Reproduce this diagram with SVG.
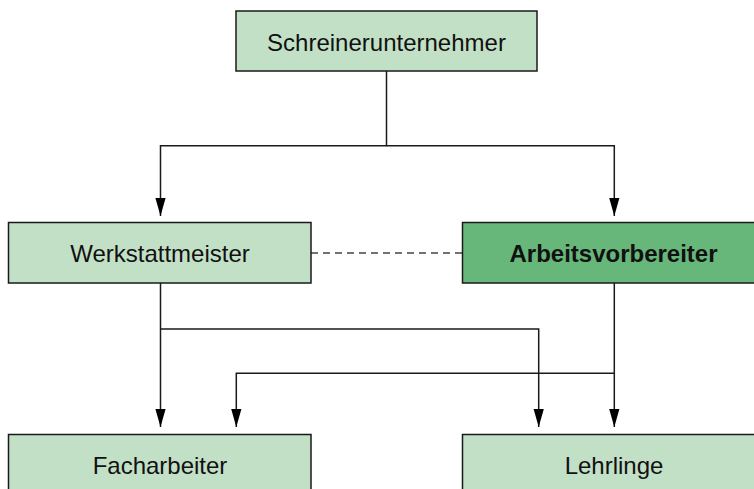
<svg xmlns="http://www.w3.org/2000/svg" width="754" height="489" viewBox="0 0 754 489">
<style>
.box{fill:#c2e0c6;stroke:#1a1a1a;stroke-width:1.5}
.boxd{fill:#67b77b;stroke:#1a1a1a;stroke-width:1.5}
.lbl{font-family:"Liberation Sans",Arial,sans-serif;font-size:24px;fill:#111;text-anchor:middle}
.b{font-weight:bold}
.con{fill:none;stroke:#1a1a1a;stroke-width:1.5}
.dash{fill:none;stroke:#444;stroke-width:1.5;stroke-dasharray:7 5}
</style>
<defs>
<marker id="arr" markerUnits="userSpaceOnUse" markerWidth="19" markerHeight="11" refX="18.5" refY="5.25" orient="auto" viewBox="0 0 19 10.5">
<path d="M0,0 L18.5,5.25 L0,10.5 z" fill="#000"/>
</marker>
</defs>
<g id="connectors">
<path class="con" d="M386.5,71 V145.7 H160.5 V216" marker-end="url(#arr)"/>
<path class="con" d="M386.5,145.7 H614.3 V216" marker-end="url(#arr)"/>
<path class="con" d="M160.5,283 V427" marker-end="url(#arr)"/>
<path class="con" d="M160.5,329 H538.7 V427" marker-end="url(#arr)"/>
<path class="con" d="M614.3,283 V427" marker-end="url(#arr)"/>
<path class="con" d="M614.3,373.3 H236.3 V427" marker-end="url(#arr)"/>
<path class="dash" d="M311,253 H462.5"/>
</g>
<g id="schreinerunternehmer">
<rect class="box" x="236" y="11" width="301" height="60"/>
<text class="lbl" x="386.5" y="51">Schreinerunternehmer</text>
</g>
<g id="werkstattmeister">
<rect class="box" x="8.5" y="222.5" width="302.5" height="60.5"/>
<text class="lbl" x="160" y="261.5">Werkstattmeister</text>
</g>
<g id="arbeitsvorbereiter">
<rect class="boxd" x="462.5" y="222.5" width="302.5" height="60.5"/>
<text class="lbl b" x="613.5" y="261.5">Arbeitsvorbereiter</text>
</g>
<g id="facharbeiter">
<rect class="box" x="8.5" y="434.5" width="302.5" height="60.5"/>
<text class="lbl" x="160" y="474">Facharbeiter</text>
</g>
<g id="lehrlinge">
<rect class="box" x="462.5" y="434.5" width="302.5" height="60.5"/>
<text class="lbl" x="614" y="474">Lehrlinge</text>
</g>
</svg>
